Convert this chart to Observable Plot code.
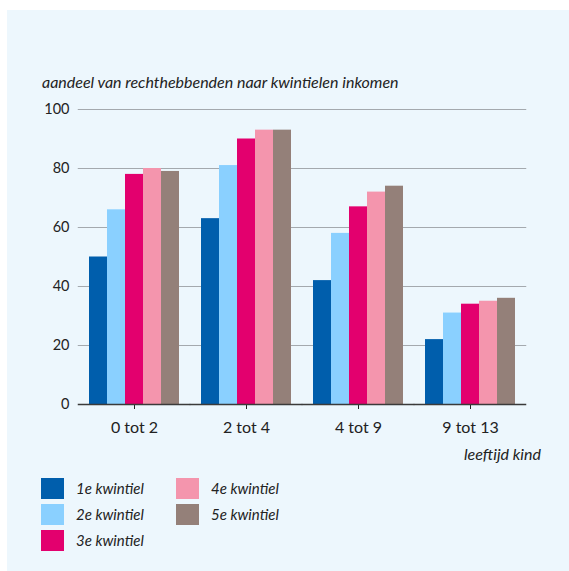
<!DOCTYPE html>
<html><head><meta charset="utf-8">
<script src="https://cdn.jsdelivr.net/npm/d3@7"></script>
<script src="https://cdn.jsdelivr.net/npm/@observablehq/plot@0.6"></script>
<style>
body{margin:0;background:#fff;font-family:Lato,"Open Sans",sans-serif;color:#222;}
#panel{position:absolute;left:7px;top:10px;width:562px;height:561px;background:#edf7fd;overflow:hidden;}
#title{position:absolute;left:35px;top:62px;font-style:italic;font-size:16px;line-height:20px;white-space:nowrap;}
#chart{position:absolute;left:0;top:85px;}
#xlabel{position:absolute;right:28px;top:434px;font-style:italic;font-size:16px;line-height:20px;}
#legend{position:absolute;left:34px;top:465px;display:grid;grid-auto-flow:column;grid-template-rows:repeat(3,26px);grid-template-columns:135px auto;}
.item{display:flex;align-items:center;font-style:italic;font-size:15px;}
.sw{width:23px;height:21px;margin-right:12px;}
</style></head>
<body>
<div id="panel">
  <div id="title">aandeel van rechthebbenden naar kwintielen inkomen</div>
  <div id="chart"></div>
  <div id="xlabel">leeftijd kind</div>
  <div id="legend"></div>
</div>
<script>
const ages = ["0 tot 2", "2 tot 4", "4 tot 9", "9 tot 13"];
const quintiles = ["1e kwintiel", "2e kwintiel", "3e kwintiel", "4e kwintiel", "5e kwintiel"];
const q1 = [50, 63, 42, 22];
const q2 = [66, 81, 58, 31];
const q3 = [78, 90, 67, 34];
const q4 = [80, 93, 72, 35];
const q5 = [79, 93, 74, 36];
const yTicks = [0, 20, 40, 60, 80, 100];
const colors = ["#005eac", "#8ad0ff", "#e3006e", "#f495ad", "#948079"];

const series = [q1, q2, q3, q4, q5];
const data = [];
ages.forEach((a, i) => quintiles.forEach((q, j) => data.push({age: a, q, value: series[j][i]})));

const width = 562, marginLeft = 70, marginRight = 42;
const padInner = 0.2, padOuter = 0.1;
const step = (width - marginLeft - marginRight) / (ages.length - padInner + 2 * padOuter);
const ext = -step * padInner / 2;

const chart = Plot.plot({
  width, height: 375,
  marginLeft, marginRight, marginTop: 14, marginBottom: 66,
  style: {background: "transparent", fontSize: "14.5px", fontFamily: "Lato, 'Open Sans', sans-serif", color: "#222"},
  facet: {data, x: "age"},
  fx: {domain: ages, label: null, paddingInner: padInner, paddingOuter: padOuter, tickSize: 5, tickPadding: 12},
  x: {domain: quintiles, padding: 0, axis: null},
  y: {domain: [0, 100], ticks: yTicks, tickSize: 0, tickPadding: 20, label: null},
  color: {domain: quintiles, range: colors},
  marks: [
    Plot.ruleY(yTicks.filter(d => d > 0), {stroke: "#a4a9ae", strokeWidth: 1, insetLeft: ext, insetRight: ext}),
    Plot.barY(data, {x: "q", y: "value", fill: "q"}),
    Plot.ruleY([0], {stroke: "#3a3a3a", strokeWidth: 1.6, insetLeft: ext, insetRight: ext})
  ]
});
d3.select(chart).selectAll('[aria-label^="fx-axis"]').attr("font-size", 16);
document.getElementById("chart").appendChild(chart);

const legend = d3.select("#legend");
quintiles.forEach((q, i) => {
  const it = legend.append("div").attr("class", "item");
  it.append("div").attr("class", "sw").style("background", colors[i]);
  it.append("span").text(q);
});
</script>
</body></html>
